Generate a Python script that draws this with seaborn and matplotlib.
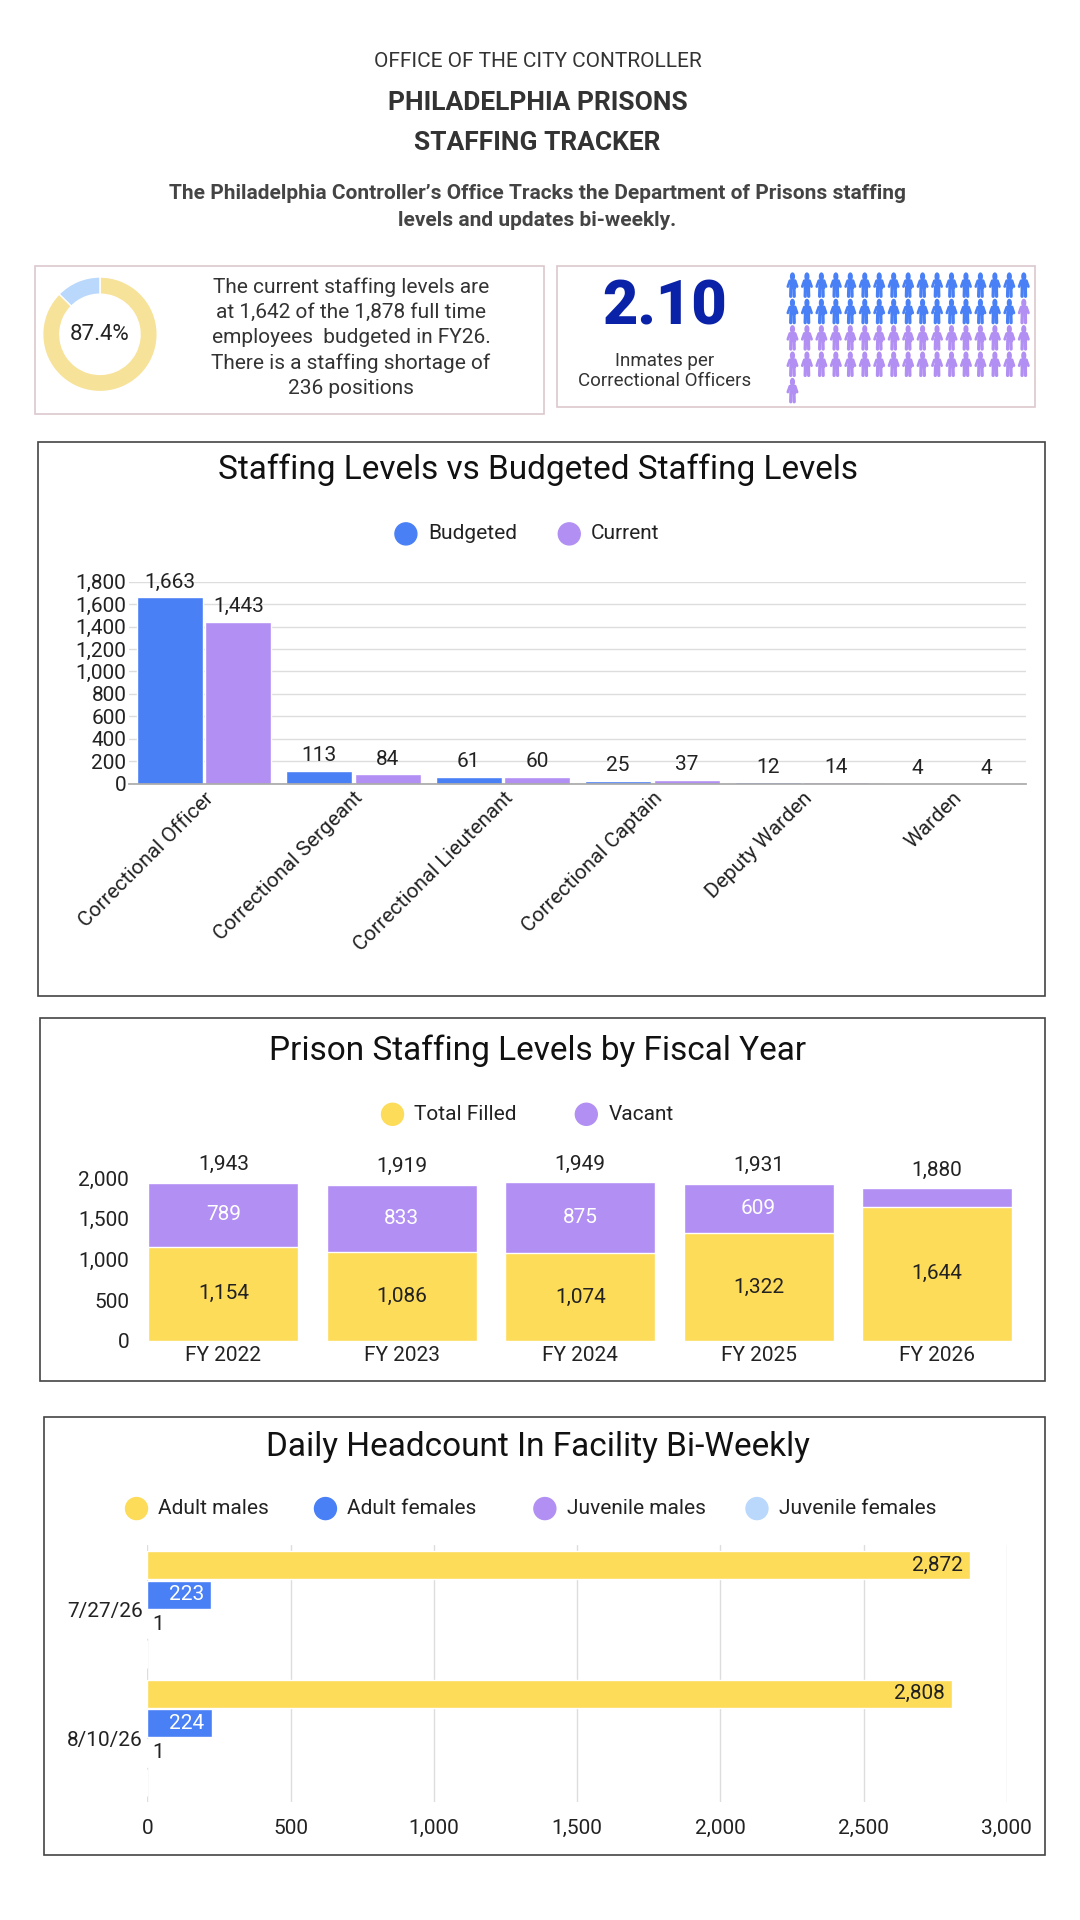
import matplotlib
matplotlib.use("Agg")
import matplotlib.pyplot as plt
import numpy as np
import pandas as pd
import seaborn as sns
from matplotlib.patches import Rectangle, Circle, Ellipse

# ---- data ----
roles = ["Correctional Officer", "Correctional Sergeant", "Correctional Lieutenant",
         "Correctional Captain", "Deputy Warden", "Warden"]
budgeted = [1663, 113, 61, 25, 12, 4]
current = [1443, 84, 60, 37, 14, 4]

years = ["FY 2022", "FY 2023", "FY 2024", "FY 2025", "FY 2026"]
filled = [1154, 1086, 1074, 1322, 1644]
vacant = [789, 833, 875, 609, 236]

dates = ["7/27/26", "8/10/26"]
adult_males = [2872, 2808]
adult_females = [223, 224]
juvenile_males = [1, 1]
juvenile_females = [0, 0]

pct_staffed = 87.4
blue_icons = 33
purple_icons = 36

BLUE = "#4a80f6"
PURPLE = "#b28ff3"
YELLOW = "#fddc5a"
LBLUE = "#b9d8fb"
TXT = "#222222"

sns.set_theme(style="white")
plt.rcParams["font.family"] = ["Roboto", "DejaVu Sans"]

W, H = 886, 1568
fig = plt.figure(figsize=(10.8, 19.2), dpi=100)


def rect(x0, y0, x1, y1):
    return [x0 / W, 1 - y1 / H, (x1 - x0) / W, (y1 - y0) / H]


def ftext(x, y, s, **kw):
    fig.text(x / W, 1 - y / H, s, ha=kw.pop("ha", "center"), va=kw.pop("va", "center"), **kw)


def box(x0, y0, x1, y1, ec="#444444", lw=1.2):
    fig.patches.append(Rectangle((x0 / W, 1 - y1 / H), (x1 - x0) / W, (y1 - y0) / H,
                                 transform=fig.transFigure, fill=False, ec=ec, lw=lw))


def legend_row(y, items, xs):
    for (lab, col), x in zip(items, xs):
        fig.patches.append(Ellipse((x / W, 1 - y / H), 18 / W, 18 / H,
                                   transform=fig.transFigure, color=col))
        ftext(x + 18, y, lab, ha="left", fontsize=15, color=TXT)


# ---- header ----
ftext(441, 50, "OFFICE OF THE CITY CONTROLLER", fontsize=15, color="#333333")
ftext(441, 84, "PHILADELPHIA PRISONS", fontsize=19, fontweight="bold", color="#333333")
ftext(441, 117, "STAFFING TRACKER", fontsize=19, fontweight="bold", color="#333333")
ftext(441, 169, "The Philadelphia Controller\u2019s Office Tracks the Department of Prisons staffing\n"
      "levels and updates bi-weekly.", fontsize=15, fontweight="bold", color="#444444",
      linespacing=1.55)

# ---- KPI box 1: donut ----
box(29, 217, 446, 338, ec="#dcc8cc")
ax_d = fig.add_axes(rect(35, 226, 129, 320))
ax_d.pie([pct_staffed, 100 - pct_staffed], colors=["#f7e29a", LBLUE], startangle=90,
         counterclock=False, wedgeprops=dict(width=0.3), radius=1.0)
ax_d.text(0, 0, f"{pct_staffed}%", ha="center", va="center", fontsize=16, color=TXT)
ax_d.set_aspect("equal")
ax_d.set_xlim(-1.0, 1.0)
ax_d.set_ylim(-1.0, 1.0)
ftext(288, 276, "The current staffing levels are\nat 1,642 of the 1,878 full time\n"
      "employees  budgeted in FY26.\nThere is a staffing shortage of\n236 positions",
      fontsize=15, color="#333333", linespacing=1.4)

# ---- KPI box 2: ratio + icons ----
box(457, 217, 849, 332, ec="#dcc8cc")
ftext(545, 251, "2.10", fontsize=44, fontweight="black", color="#0a22a8")
ftext(545, 295, "Inmates per", fontsize=13.5, color="#333333")
ftext(545, 311, "Correctional Officers", fontsize=13.5, color="#333333")

ax_i = fig.add_axes(rect(643, 220, 847, 332))
ax_i.set_xlim(-0.6, 16.6)
ax_i.set_ylim(4.6, -0.6)
ax_i.axis("off")
for k in range(blue_icons + purple_icons):
    r, c = divmod(k, 17)
    col = BLUE if k < blue_icons else PURPLE
    ax_i.add_patch(Circle((c, r - 0.33), 0.13, color=col))
    ax_i.plot([c - 0.32, c - 0.18, c + 0.18, c + 0.32], [r + 0.05, r - 0.17, r - 0.17, r + 0.05],
              color=col, lw=2, solid_capstyle="round")
    ax_i.add_patch(Rectangle((c - 0.17, r - 0.2), 0.34, 0.3, color=col))
    ax_i.plot([c - 0.1, c - 0.12], [r + 0.05, r + 0.42], color=col, lw=2.4)
    ax_i.plot([c + 0.1, c + 0.12], [r + 0.05, r + 0.42], color=col, lw=2.4)

# ---- chart 1: budgeted vs current ----
box(31, 361, 857, 813)
ftext(441, 384, "Staffing Levels vs Budgeted Staffing Levels", fontsize=24, color="#111111")
legend_row(436, [("Budgeted", BLUE), ("Current", PURPLE)], [333, 467])
df1 = pd.DataFrame({"role": roles * 2, "value": budgeted + current,
                    "series": ["Budgeted"] * 6 + ["Current"] * 6})
ax1 = fig.add_axes(rect(106, 475, 842, 640))
sns.barplot(data=df1, x="role", y="value", hue="series", palette=[BLUE, PURPLE],
            width=0.92, gap=0.04, saturation=1, ax=ax1, legend=False)
for cont in ax1.containers:
    ax1.bar_label(cont, labels=[f"{v:,.0f}" for v in cont.datavalues], padding=4,
                  fontsize=15, color=TXT)
ax1.set_ylim(0, 1800)
ax1.set_yticks(range(0, 1801, 200))
ax1.set_yticklabels([f"{v:,}" for v in range(0, 1801, 200)])
ax1.yaxis.grid(True, color="#dddddd", lw=1)
ax1.set_axisbelow(True)
ax1.tick_params(axis="y", labelsize=15, pad=2, colors=TXT, length=0)
ax1.tick_params(axis="x", labelsize=15, colors=TXT, length=0)
plt.setp(ax1.get_xticklabels(), rotation=45, ha="right", rotation_mode="anchor")
ax1.set_xlabel("")
ax1.set_ylabel("")
sns.despine(ax=ax1, left=True)
ax1.spines["bottom"].set_color("#aaaaaa")

# ---- chart 2: fiscal year stacked ----
box(33, 831, 857, 1128)
ftext(441, 858, "Prison Staffing Levels by Fiscal Year", fontsize=24, color="#111111")
legend_row(910, [("Total Filled", YELLOW), ("Vacant", PURPLE)], [322, 481])
totals = [f + v for f, v in zip(filled, vacant)]
df2 = pd.DataFrame({"year": years, "filled": filled, "total": totals, "vacant": vacant})
ax2 = fig.add_axes(rect(110, 962, 842, 1095))
sns.barplot(data=df2, x="year", y="total", color=PURPLE, width=0.84, saturation=1, ax=ax2)
sns.barplot(data=df2, x="year", y="filled", color=YELLOW, width=0.84, saturation=1, ax=ax2)
ax2.bar_label(ax2.containers[0], labels=[f"{v:,}" for v in totals], padding=6,
              fontsize=15, color=TXT)
for i, (f, v) in enumerate(zip(filled, vacant)):
    ax2.text(i, f / 2, f"{f:,}", ha="center", va="center", fontsize=15, color=TXT)
    if v > 400:
        ax2.text(i, f + v / 2, f"{v:,}", ha="center", va="center", fontsize=15, color="white")
ax2.set_ylim(0, 2000)
ax2.set_yticks(range(0, 2001, 500))
ax2.set_yticklabels([f"{v:,}" for v in range(0, 2001, 500)])
ax2.tick_params(axis="both", labelsize=15, colors=TXT, length=0)
ax2.set_xlabel("")
ax2.set_ylabel("")
sns.despine(ax=ax2, left=True, bottom=True)

# ---- chart 3: daily headcount ----
box(36, 1157, 857, 1515)
ftext(441, 1182, "Daily Headcount In Facility Bi-Weekly", fontsize=24, color="#111111")
legend_row(1232, [("Adult males", YELLOW), ("Adult females", BLUE),
                  ("Juvenile males", PURPLE), ("Juvenile females", LBLUE)],
           [112, 267, 447, 621])
groups = ["Adult males", "Adult females", "Juvenile males", "Juvenile females"]
df3 = pd.DataFrame({"date": dates * 4,
                    "count": adult_males + adult_females + juvenile_males + juvenile_females,
                    "group": sum([[g] * 2 for g in groups], [])})
ax3 = fig.add_axes(rect(121, 1262, 826, 1472))
sns.barplot(data=df3, y="date", x="count", hue="group", orient="h",
            palette=[YELLOW, BLUE, PURPLE, LBLUE], width=0.92, gap=0.06, saturation=1,
            ax=ax3, legend=False)
for cont, col in zip(ax3.containers, [TXT, "white", TXT, None]):
    if col is None:
        continue
    for bar, v in zip(cont, cont.datavalues):
        if v > 100:
            ax3.text(bar.get_width() - 25, bar.get_y() + bar.get_height() / 2, f"{v:,.0f}",
                     ha="right", va="center", fontsize=15, color=col)
        else:
            ax3.text(bar.get_width() + 15, bar.get_y() + bar.get_height() / 2, f"{v:,.0f}",
                     ha="left", va="center", fontsize=15, color=col)
ax3.set_xlim(0, 3000)
ax3.set_xticks(range(0, 3001, 500))
ax3.set_xticklabels([f"{v:,}" for v in range(0, 3001, 500)])
ax3.xaxis.grid(True, color="#dddddd", lw=1)
ax3.set_axisbelow(True)
ax3.tick_params(axis="both", labelsize=15, colors=TXT, length=0)
ax3.tick_params(axis="x", pad=12)
ax3.set_xlabel("")
ax3.set_ylabel("")
sns.despine(ax=ax3, left=True, bottom=True)

fig.savefig("out.png", dpi=100, facecolor="white")
